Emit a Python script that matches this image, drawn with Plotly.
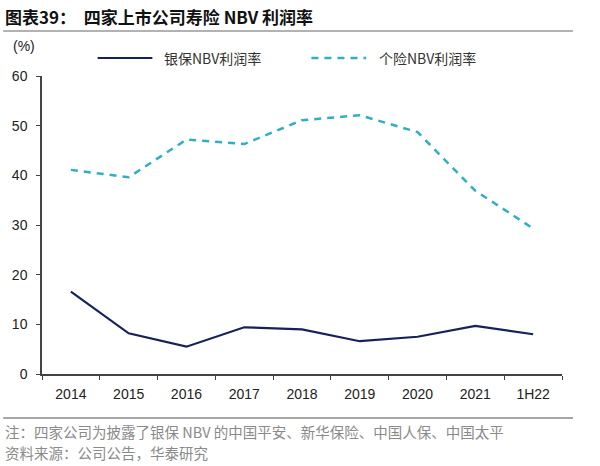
import plotly.graph_objects as go

categories = ["2014", "2015", "2016", "2017", "2018", "2019", "2020", "2021", "1H22"]
bancassurance_margin = [16.6, 8.2, 5.5, 9.4, 9.0, 6.6, 7.5, 9.7, 8.0]
agency_margin = [41.1, 39.6, 47.2, 46.3, 51.1, 52.1, 48.7, 36.9, 29.3]
series_names = ["银保NBV利润率", "个险NBV利润率"]
y_ticks = [0, 10, 20, 30, 40, 50, 60]

FONT = "Liberation Sans, Arial, Noto Sans CJK SC, sans-serif"
CJK = "Noto Sans CJK SC, sans-serif"

L, R, T, B = 39, 38, 76, 92
W, H = 600, 466

def px_x(px):
    return (px - L) / (W - L - R)

def px_y(py):
    return (H - B - py) / (H - T - B)

styles = [
    dict(color="#16215a", width=2.2),
    dict(color="#2fb0c0", width=2.5, dash="7px,6px"),
]

fig = go.Figure()
fig.add_trace(go.Scatter(x=categories, y=bancassurance_margin, name=series_names[0],
                         mode="lines", line=styles[0]))
fig.add_trace(go.Scatter(x=categories, y=agency_margin, name=series_names[1],
                         mode="lines", line=styles[1]))

fig.update_layout(
    width=W, height=H,
    margin=dict(l=L, r=R, t=T, b=B),
    paper_bgcolor="white", plot_bgcolor="white",
    font=dict(family=FONT, size=14, color="#222"),
    showlegend=False,
    xaxis=dict(
        type="category", categoryorder="array", categoryarray=categories,
        showline=True, linecolor="#444", linewidth=1.5,
        ticks="outside", tickson="boundaries", ticklen=4, tickcolor="#444",
        ticklabelstandoff=6,
        showgrid=False, zeroline=False,
        tickfont=dict(family=FONT, size=14, color="#222"),
        range=[-0.5, 8.5],
    ),
    yaxis=dict(
        range=[0, 60], tickvals=y_ticks, showline=True, linecolor="#444", linewidth=1.5,
        ticks="outside", ticklen=4, tickcolor="#444",
        ticklabelstandoff=6,
        showgrid=False, zeroline=False,
        tickfont=dict(family=FONT, size=14, color="#222"),
    ),
)

# Manual legend
legend_items = [(95, 150, 160), (310, 365, 376)]
for (x0, x1, tx), name, st in zip(legend_items, series_names, styles):
    fig.add_shape(type="line", xref="paper", yref="paper",
                  x0=px_x(x0), x1=px_x(x1), y0=px_y(58), y1=px_y(58), line=st)
    fig.add_annotation(text=name, x=px_x(tx), y=px_y(58), xref="paper", yref="paper",
                       showarrow=False, xanchor="left", yanchor="middle",
                       font=dict(family=CJK, size=14, color="#333"))

fig.add_annotation(
    text="<b>图表39：  四家上市公司寿险 NBV 利润率</b>", x=px_x(0), y=px_y(17),
    xref="paper", yref="paper", showarrow=False, xanchor="left", yanchor="middle",
    font=dict(family=CJK, size=17, color="#111"),
)
fig.add_annotation(
    text="(%)", x=px_x(8), y=px_y(46),
    xref="paper", yref="paper", showarrow=False, xanchor="left", yanchor="middle",
    font=dict(family=FONT, size=14, color="#222"),
)
fig.add_annotation(
    text="注：四家公司为披露了银保 NBV 的中国平安、新华保险、中国人保、中国太平",
    x=px_x(0), y=px_y(431),
    xref="paper", yref="paper", showarrow=False, xanchor="left", yanchor="middle",
    font=dict(family=CJK, size=14.5, color="#8a8a8a"),
)
fig.add_annotation(
    text="资料来源：公司公告，华泰研究",
    x=px_x(0), y=px_y(452),
    xref="paper", yref="paper", showarrow=False, xanchor="left", yanchor="middle",
    font=dict(family=CJK, size=14.5, color="#8a8a8a"),
)
fig.add_shape(type="line", xref="paper", yref="paper",
              x0=px_x(0), x1=px_x(573), y0=px_y(31), y1=px_y(31),
              line=dict(color="#999", width=1.5))
fig.add_shape(type="line", xref="paper", yref="paper",
              x0=px_x(0), x1=px_x(573), y0=px_y(418), y1=px_y(418),
              line=dict(color="#888", width=1.5))

fig.write_html("out.html")
